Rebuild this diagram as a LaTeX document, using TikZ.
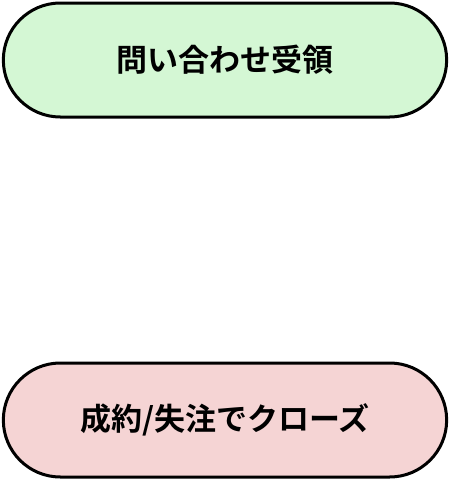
\documentclass[tikz,border=0pt]{standalone}
\usepackage{fontspec}
\setmainfont{Noto Sans CJK JP}[BoldFont=* Bold]
\usetikzlibrary{shapes.misc}
\definecolor{startgreen}{HTML}{D4F7D4}
\definecolor{endpink}{HTML}{F5D4D4}

\begin{document}
\begin{tikzpicture}[
every node/.style = {rounded rectangle, draw, line width=3pt, align=center,
                     minimum width=450pt, minimum height=114pt,
                     font=\fontsize{31}{36}\selectfont\bfseries}]
\useasboundingbox (0,0) rectangle (450pt,-480pt);
\node[fill=startgreen] (inquiry) at (225pt,-60pt) {問い合わせ受領};
\node[fill=endpink] (closing) at (225pt,-420pt) {成約/失注でクローズ};
\end{tikzpicture}
\end{document}
